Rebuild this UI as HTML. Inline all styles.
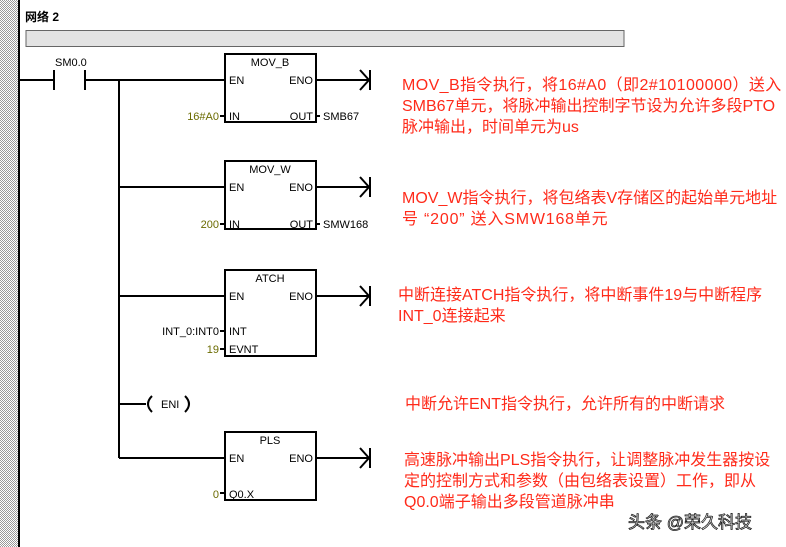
<!DOCTYPE html>
<html><head><meta charset="utf-8"><style>
html,body{margin:0;padding:0;background:#fff;width:786px;height:547px;overflow:hidden;}
.t{position:absolute;left:402px;color:#ff2a1a;font:16px "Liberation Sans","Noto Sans CJK SC",sans-serif;white-space:nowrap;line-height:21px;}
</style></head><body>
<svg width="786" height="547" style="position:absolute;left:0;top:0" font-family="Liberation Sans, DejaVu Sans, sans-serif">
<defs><pattern id="h" width="2" height="2" patternUnits="userSpaceOnUse"><rect width="2" height="2" fill="#fff"/><rect width="1" height="1" fill="#999"/><rect x="1" y="1" width="1" height="1" fill="#999"/></pattern></defs>
<rect x="0" y="0" width="18" height="547" fill="url(#h)"/>
<rect x="18" y="0" width="2" height="547" fill="#000"/>
<text x="25" y="21" font-size="12" font-weight="bold" font-family="Liberation Sans, Noto Sans CJK SC, sans-serif">网络 2</text>
<rect x="26" y="30.5" width="598" height="16" fill="#e3e3e3" stroke="#666" stroke-width="1"/>
<g stroke="#000" stroke-width="2" fill="none">
<line x1="20" y1="80" x2="54" y2="80"/>
<line x1="54" y1="70" x2="54" y2="90"/><line x1="85" y1="70" x2="85" y2="90"/>
<line x1="85" y1="80" x2="224" y2="80"/>
<line x1="119" y1="80" x2="119" y2="458"/>
<line x1="119" y1="187" x2="224" y2="187"/>
<line x1="119" y1="296" x2="224" y2="296"/>
<line x1="119" y1="404" x2="146" y2="404"/>
<line x1="119" y1="458" x2="224" y2="458"/>
<rect x="225" y="54" width="91" height="68"/>
<rect x="225" y="161" width="91" height="68"/>
<rect x="225" y="270" width="91" height="86"/>
<rect x="225" y="432" width="91" height="68"/>
<line x1="316" y1="80" x2="369" y2="80"/><polyline points="360,70 369,80 360,90"/><line x1="370" y1="70" x2="370" y2="90"/>
<line x1="316" y1="187" x2="369" y2="187"/><polyline points="360,177 369,187 360,197"/><line x1="370" y1="177" x2="370" y2="197"/>
<line x1="316" y1="296" x2="369" y2="296"/><polyline points="360,286 369,296 360,306"/><line x1="370" y1="286" x2="370" y2="306"/>
<line x1="316" y1="458" x2="369" y2="458"/><polyline points="360,448 369,458 360,468"/><line x1="370" y1="448" x2="370" y2="468"/>
<path d="M152,396 Q144,404 152,412"/><path d="M185,396 Q193,404 185,412"/>
<line x1="220" y1="116" x2="224" y2="116"/><line x1="316" y1="116" x2="320" y2="116"/>
<line x1="220" y1="224" x2="224" y2="224"/><line x1="316" y1="224" x2="320" y2="224"/>
<line x1="220" y1="331" x2="224" y2="331"/><line x1="220" y1="349" x2="224" y2="349"/>
<line x1="220" y1="493" x2="224" y2="493"/>
</g>
<g font-size="11" fill="#000">
<text x="55" y="66">SM0.0</text>
<text x="270" y="66" text-anchor="middle">MOV_B</text>
<text x="229" y="84">EN</text><text x="313" y="84" text-anchor="end">ENO</text>
<text x="229" y="120">IN</text><text x="313" y="120" text-anchor="end">OUT</text>
<text x="323" y="120">SMB67</text>
<text x="270" y="173" text-anchor="middle">MOV_W</text>
<text x="229" y="191">EN</text><text x="313" y="191" text-anchor="end">ENO</text>
<text x="229" y="228">IN</text><text x="313" y="228" text-anchor="end">OUT</text>
<text x="323" y="228">SMW168</text>
<text x="270" y="282" text-anchor="middle">ATCH</text>
<text x="229" y="300">EN</text><text x="313" y="300" text-anchor="end">ENO</text>
<text x="229" y="335">INT</text><text x="219" y="335" text-anchor="end">INT_0:INT0</text>
<text x="229" y="353">EVNT</text>
<text x="161" y="408">ENI</text>
<text x="270" y="444" text-anchor="middle">PLS</text>
<text x="229" y="462">EN</text><text x="313" y="462" text-anchor="end">ENO</text>
<text x="229" y="498">Q0.X</text>
</g>
<g font-size="11" fill="#6b6b00" text-anchor="end">
<text x="219" y="120">16#A0</text><text x="219" y="228">200</text><text x="219" y="353">19</text><text x="219" y="498">0</text>
</g>
<text x="628" y="528" font-size="17" fill="#fff" stroke="#222" stroke-width="0.8" font-family="Liberation Sans, Noto Sans CJK SC, sans-serif">头条 @荣久科技</text>
</svg>
<div class="t" style="top:75px"><span style="letter-spacing:0.4px">MOV_B指令执行，将16#A0（即2#10100000）送入</span><br>SMB67单元，将脉冲输出控制字节设为允许多段PTO<br>脉冲输出，时间单元为us</div>
<div class="t" style="top:188px">MOV_W指令执行，将包络表V存储区的起始单元地址<br><span style="letter-spacing:0.8px">号 “200” 送入SMW168单元</span></div>
<div class="t" style="top:285px;left:398px">中断连接ATCH指令执行，将中断事件19与中断程序<br>INT_0连接起来</div>
<div class="t" style="top:394px;left:405px">中断允许ENT指令执行，允许所有的中断请求</div>
<div class="t" style="top:450px;left:404px">高速脉冲输出PLS指令执行，让调整脉冲发生器按设<br>定的控制方式和参数（由包络表设置）工作，即从<br>Q0.0端子输出多段管道脉冲串</div>
</body></html>
